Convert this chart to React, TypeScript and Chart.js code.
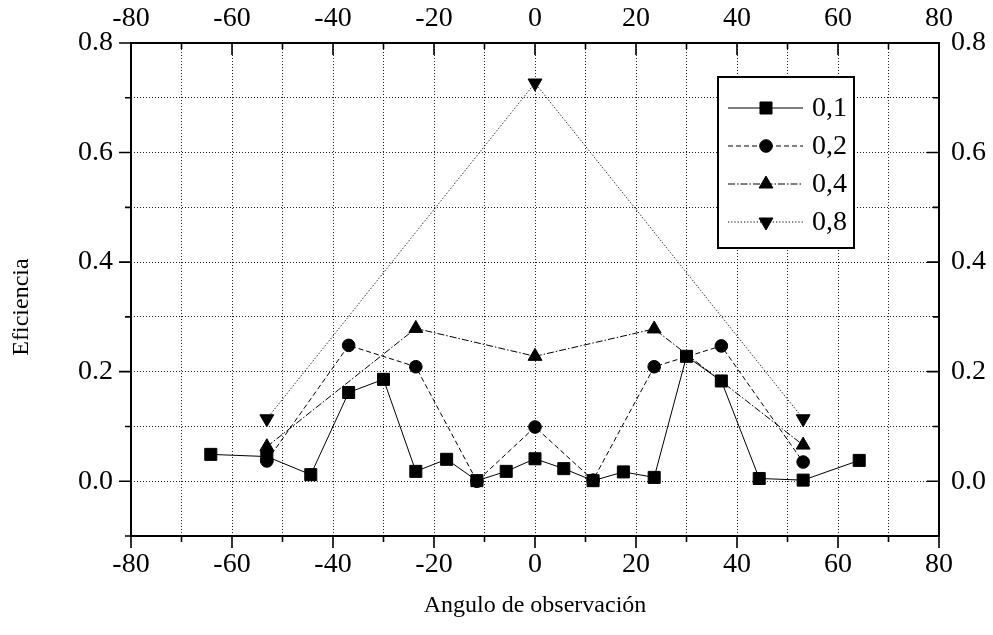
import React, { useEffect, useRef } from 'react';
import { Chart, registerables } from 'chart.js';

Chart.register(...registerables);

// ---- data ----
const angles01 = [-64.2, -53.1, -44.4, -36.9, -30, -23.6, -17.5, -11.5, -5.7, 0, 5.7, 11.5, 17.5, 23.6, 30, 36.9, 44.4, 53.1, 64.2];
const eff01 = [0.049, 0.045, 0.012, 0.162, 0.186, 0.018, 0.040, 0.001, 0.018, 0.041, 0.023, 0.001, 0.017, 0.007, 0.228, 0.183, 0.005, 0.002, 0.038];
const angles02 = [-53.1, -36.9, -23.6, -11.5, 0, 11.5, 23.6, 36.9, 53.1];
const eff02 = [0.037, 0.248, 0.209, 0.0, 0.099, 0.002, 0.209, 0.247, 0.035];
const angles04 = [-53.1, -23.6, 0, 23.6, 53.1];
const eff04 = [0.063, 0.279, 0.228, 0.278, 0.066];
const angles08 = [-53.1, 0, 53.1];
const eff08 = [0.114, 0.727, 0.114];
const seriesLabels = ['0,1', '0,2', '0,4', '0,8'];
const xTitle = 'Angulo de observación';
const yTitle = 'Eficiencia';
const X_MIN = -80, X_MAX = 80, Y_MIN = -0.1, Y_MAX = 0.8;

const FONT = "'Liberation Serif', 'Times New Roman', serif";

const toPts = (xs: number[], ys: number[]) => xs.map((x, i) => ({ x, y: ys[i] }));

const xLabel = (v: number) => (Math.round(v) % 20 === 0 ? String(Math.round(v)) : '');
const yLabel = (v: number) => {
  const k = Math.round(v * 10);
  return k >= 0 && k % 2 === 0 ? (k / 10).toFixed(1) : '';
};

const framePlugin = {
  id: 'framePlugin',
  afterDraw(chart: any) {
    const ctx = chart.ctx as CanvasRenderingContext2D;
    const { left, right, top, bottom } = chart.chartArea;
    const sx = chart.scales.x;
    const sy = chart.scales.y;
    ctx.save();
    ctx.strokeStyle = '#000';
    ctx.setLineDash([]);
    // ticks
    ctx.lineWidth = 1.6;
    ctx.beginPath();
    sx.ticks.forEach((t: any) => {
      const px = sx.getPixelForValue(t.value);
      const major = Math.round(t.value) % 20 === 0;
      const len = major ? 12 : 6;
      ctx.moveTo(px, bottom);
      ctx.lineTo(px, bottom + len);
      ctx.moveTo(px, top);
      ctx.lineTo(px, top + len);
    });
    sy.ticks.forEach((t: any) => {
      const py = sy.getPixelForValue(t.value);
      const k = Math.round(t.value * 10);
      const major = k >= 0 && k % 2 === 0;
      const len = major ? 12 : 6;
      ctx.moveTo(left, py);
      ctx.lineTo(left - len, py);
      ctx.moveTo(right, py);
      ctx.lineTo(right - len, py);
    });
    ctx.stroke();
    // frame
    ctx.lineWidth = 2;
    ctx.strokeRect(left, top, right - left, bottom - top);

    // axis titles
    ctx.fillStyle = '#000';
    ctx.font = `24px ${FONT}`;
    ctx.textAlign = 'center';
    ctx.textBaseline = 'middle';
    ctx.fillText(xTitle, (left + right) / 2, 606);
    ctx.save();
    ctx.translate(22, 307);
    ctx.rotate(-Math.PI / 2);
    ctx.fillText(yTitle, 0, 0);
    ctx.restore();

    // legend
    const bx = 718, by = 77, bw = 136, bh = 171;
    ctx.fillStyle = '#fff';
    ctx.fillRect(bx, by, bw, bh);
    ctx.lineWidth = 2;
    ctx.strokeStyle = '#000';
    ctx.strokeRect(bx, by, bw, bh);
    const rows = [108, 146, 184, 222];
    chart.data.datasets.forEach((ds: any, i: number) => {
      const y = rows[i];
      ctx.save();
      ctx.strokeStyle = '#000';
      ctx.lineWidth = 1;
      ctx.setLineDash(ds.borderDash || []);
      ctx.beginPath();
      ctx.moveTo(728, y);
      ctx.lineTo(803, y);
      ctx.stroke();
      ctx.restore();
      ctx.save();
      ctx.fillStyle = '#000';
      ctx.strokeStyle = '#000';
      ctx.lineWidth = 1;
      (Chart as any).helpers
        ? null
        : null;
      drawMarker(ctx, ds.pointStyle, ds.pointRadius, ds.pointRotation || 0, 766, y);
      ctx.restore();
      ctx.fillStyle = '#000';
      ctx.font = `28px ${FONT}`;
      ctx.textAlign = 'left';
      ctx.textBaseline = 'middle';
      ctx.fillText(seriesLabels[i], 812, y + 1);
    });
    ctx.restore();
  },
};

function drawMarker(ctx: CanvasRenderingContext2D, style: string, r: number, rotDeg: number, x: number, y: number) {
  ctx.beginPath();
  if (style === 'rect') {
    const s = Math.SQRT1_2 * r;
    ctx.rect(x - s, y - s, 2 * s, 2 * s);
  } else if (style === 'circle') {
    ctx.arc(x, y, r, 0, Math.PI * 2);
  } else {
    let rad = (rotDeg * Math.PI) / 180;
    ctx.moveTo(x + Math.sin(rad) * r, y - Math.cos(rad) * r);
    rad += (2 * Math.PI) / 3;
    ctx.lineTo(x + Math.sin(rad) * r, y - Math.cos(rad) * r);
    rad += (2 * Math.PI) / 3;
    ctx.lineTo(x + Math.sin(rad) * r, y - Math.cos(rad) * r);
    ctx.closePath();
  }
  ctx.fill();
  ctx.stroke();
}

export default function App() {
  const ref = useRef<HTMLCanvasElement | null>(null);
  useEffect(() => {
    document.body.style.margin = '0';
    const canvas = ref.current!;
    const base = {
      borderColor: '#000',
      backgroundColor: '#000',
      pointBackgroundColor: '#000',
      pointBorderColor: '#000',
      pointBorderWidth: 1,
      borderWidth: 1,
      showLine: true,
      tension: 0,
      xAxisID: 'x',
      yAxisID: 'y',
    };
    const gridCommon = {
      display: true,
      color: '#222',
      lineWidth: 1,
      drawTicks: false,
    };
    const chart = new Chart(canvas, {
      type: 'scatter',
      data: {
        datasets: [
          { ...base, label: seriesLabels[0], data: toPts(angles01, eff01), pointStyle: 'rect', pointRadius: 8.5, borderDash: [], order: 4 },
          { ...base, label: seriesLabels[1], data: toPts(angles02, eff02), pointStyle: 'circle', pointRadius: 6.3, borderDash: [5, 3], order: 3 },
          { ...base, label: seriesLabels[2], data: toPts(angles04, eff04), pointStyle: 'triangle', pointRadius: 8, borderDash: [7, 2, 1.5, 2], order: 2 },
          { ...base, label: seriesLabels[3], data: toPts(angles08, eff08), pointStyle: 'triangle', pointRotation: 180, pointRadius: 8, borderDash: [1.2, 2], order: 1 },
        ],
      } as any,
      options: {
        responsive: false,
        animation: false,
        devicePixelRatio: 1,
        layout: { padding: 0 },
        plugins: { legend: { display: false }, tooltip: { enabled: false } },
        scales: {
          x: {
            type: 'linear', position: 'bottom', min: X_MIN, max: X_MAX,
            grid: gridCommon,
            border: { display: false, dash: [1, 2] },
            ticks: { stepSize: 10, autoSkip: false, maxRotation: 0, padding: 12, color: '#000', font: { family: FONT, size: 28 }, callback: (v: any) => xLabel(Number(v)) },
            afterFit: (s: any) => { s.height = 99; },
          },
          x2: {
            type: 'linear', position: 'top', min: X_MIN, max: X_MAX,
            grid: { display: false, drawTicks: false },
            border: { display: false },
            ticks: { stepSize: 10, autoSkip: false, maxRotation: 0, padding: 8, color: '#000', font: { family: FONT, size: 28 }, callback: (v: any) => xLabel(Number(v)) },
            afterFit: (s: any) => { s.height = 43; },
          },
          y: {
            type: 'linear', position: 'left', min: Y_MIN, max: Y_MAX,
            grid: gridCommon,
            border: { display: false, dash: [1, 2] },
            ticks: { stepSize: 0.1, autoSkip: false, padding: 18, color: '#000', font: { family: FONT, size: 28 }, callback: (v: any) => yLabel(Number(v)) },
            afterFit: (s: any) => { s.width = 131; },
          },
          y2: {
            type: 'linear', position: 'right', min: Y_MIN, max: Y_MAX,
            grid: { display: false, drawTicks: false },
            border: { display: false },
            ticks: { stepSize: 0.1, autoSkip: false, padding: 12, color: '#000', font: { family: FONT, size: 28 }, callback: (v: any) => yLabel(Number(v)) },
            afterFit: (s: any) => { s.width = 54; },
          },
        },
      } as any,
      plugins: [framePlugin],
    });
    return () => chart.destroy();
  }, []);
  return (
    <div style={{ width: 993, height: 635, background: '#fff' }}>
      <canvas ref={ref} width={993} height={635} style={{ display: 'block' }} />
    </div>
  );
}
